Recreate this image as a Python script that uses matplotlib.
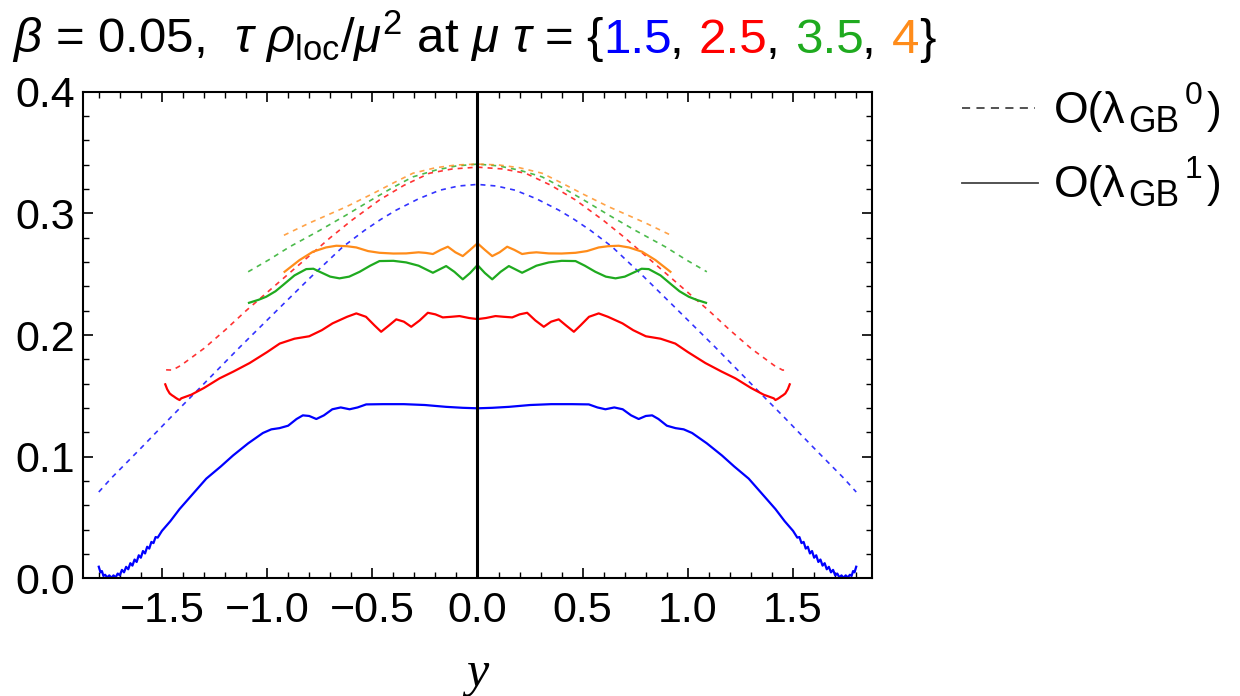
import numpy as np
import matplotlib.pyplot as plt
from matplotlib.lines import Line2D
from matplotlib.ticker import MultipleLocator

plt.rcParams['font.family'] = ['Liberation Sans', 'DejaVu Sans']
plt.rcParams['mathtext.fontset'] = 'custom'
plt.rcParams['mathtext.rm'] = 'Liberation Sans'
plt.rcParams['mathtext.it'] = 'Liberation Sans:italic'
plt.rcParams['mathtext.bf'] = 'Liberation Sans:bold'

# mu*tau values and colours
mu_tau = ["1.5", "2.5", "3.5", "4"]
colors = ["#0000ff", "#ff0000", "#1faa1f", "#ff8c1a"]

# curves are symmetric in y, only the left half (y <= 0) is listed
# O(lambda^1), solid
blue_x = [-1.800, -1.792, -1.785, -1.778, -1.770, -1.760, -1.750, -1.740, -1.730, -1.720,
          -1.710, -1.700, -1.690, -1.680, -1.670, -1.660, -1.650, -1.640, -1.630, -1.620,
          -1.610, -1.600, -1.590, -1.580, -1.570, -1.560, -1.550, -1.540, -1.530, -1.520,
          -1.50, -1.46, -1.416, -1.35, -1.289, -1.22, -1.162, -1.09, -1.02, -0.98,
          -0.941, -0.90, -0.86, -0.83, -0.80, -0.766, -0.73, -0.69, -0.65, -0.608,
          -0.57, -0.529, -0.45, -0.35, -0.25, -0.15, -0.07, 0.0]
blue_y = [0.0096, 0.0050, 0.0060, 0.0020, 0.0030, 0.0008, 0.0025, 0.0005, 0.0025, 0.0008,
          0.0040, 0.0025, 0.0070, 0.0050, 0.0095, 0.0075, 0.0125, 0.0105, 0.0155, 0.0135,
          0.0190, 0.0170, 0.0225, 0.0205, 0.0260, 0.0245, 0.0300, 0.0290, 0.0340, 0.0335,
          0.039, 0.047, 0.057, 0.070, 0.082, 0.092, 0.101, 0.111, 0.1195, 0.1225,
          0.1235, 0.1255, 0.131, 0.134, 0.1335, 0.131, 0.134, 0.139, 0.1405, 0.139,
          0.1405, 0.143, 0.1432, 0.1432, 0.1425, 0.141, 0.1402, 0.1398]

red_x = [-1.484, -1.475, -1.463, -1.452, -1.443, -1.435, -1.426, -1.416, -1.408, -1.40,
         -1.36, -1.30, -1.226, -1.16, -1.083, -1.00, -0.94, -0.87, -0.80, -0.74,
         -0.689, -0.62, -0.576, -0.53, -0.49, -0.458, -0.42, -0.386, -0.35, -0.315,
         -0.275, -0.236, -0.20, -0.165, -0.125, -0.0855, -0.04, 0.0]
red_y = [0.1595, 0.1555, 0.152, 0.1505, 0.1495, 0.1485, 0.1475, 0.1466, 0.1480, 0.1485,
         0.151, 0.1565, 0.1644, 0.170, 0.177, 0.186, 0.193, 0.197, 0.199, 0.204,
         0.2096, 0.215, 0.2178, 0.215, 0.208, 0.2027, 0.208, 0.2129, 0.211, 0.2068,
         0.212, 0.2183, 0.217, 0.2145, 0.215, 0.2156, 0.214, 0.2131]

green_x = [-1.086, -1.04, -1.004, -0.96, -0.925, -0.87, -0.814, -0.78, -0.75, -0.70,
           -0.656, -0.61, -0.56, -0.51, -0.466, -0.40, -0.339, -0.28, -0.245, -0.212,
           -0.18, -0.149, -0.11, -0.07, -0.035, 0.0]
green_y = [0.2265, 0.229, 0.2315, 0.236, 0.241, 0.249, 0.2542, 0.2545, 0.252, 0.248,
           0.2466, 0.248, 0.252, 0.257, 0.2608, 0.261, 0.2597, 0.257, 0.254, 0.2512,
           0.254, 0.2567, 0.252, 0.2458, 0.251, 0.2575]

orange_x = [-0.917, -0.88, -0.846, -0.782, -0.72, -0.671, -0.62, -0.576, -0.52, -0.466,
            -0.40, -0.339, -0.28, -0.245, -0.212, -0.175, -0.141, -0.105, -0.07, -0.035, 0.0]
orange_y = [0.252, 0.257, 0.2616, 0.2685, 0.272, 0.2734, 0.273, 0.272, 0.269, 0.2676,
            0.267, 0.2671, 0.268, 0.2675, 0.2666, 0.270, 0.2726, 0.268, 0.2649, 0.270, 0.2754]

# O(lambda^0), dashed
blue0_x = [-1.80, -1.74, -1.60, -1.46, -1.32, -1.13, -0.94, -0.79, -0.64, -0.537,
           -0.46, -0.386, -0.28, -0.18, -0.09, 0.0]
blue0_y = [0.071, 0.0825, 0.107, 0.132, 0.1565, 0.190, 0.2225, 0.248, 0.2725, 0.286,
           0.295, 0.3027, 0.312, 0.319, 0.3225, 0.3238]
red0_x = [-1.48, -1.45, -1.41, -1.30, -1.20, -1.10, -1.00, -0.90, -0.80, -0.70,
          -0.60, -0.466, -0.35, -0.228, -0.12, 0.0]
red0_y = [0.1714, 0.1712, 0.175, 0.189, 0.204, 0.220, 0.235, 0.250, 0.265, 0.280,
          0.294, 0.311, 0.323, 0.333, 0.3365, 0.338]
green0_x = [-1.09, -0.99, -0.893, -0.75, -0.624, -0.50, -0.40, -0.307, -0.20, -0.10, 0.0]
green0_y = [0.252, 0.262, 0.2725, 0.286, 0.2986, 0.3115, 0.3215, 0.330, 0.3355, 0.339, 0.3405]
orange0_x = [-0.92, -0.80, -0.624, -0.50, -0.40, -0.307, -0.20, -0.10, 0.0]
orange0_y = [0.282, 0.292, 0.3054, 0.316, 0.325, 0.333, 0.3375, 0.3398, 0.3405]


def mirror(x, v):
    x = np.asarray(x)
    v = np.asarray(v)
    return np.concatenate([x, -x[-2::-1]]), np.concatenate([v, v[-2::-1]])


solid = [(blue_x, blue_y), (red_x, red_y), (green_x, green_y), (orange_x, orange_y)]
dashed = [(blue0_x, blue0_y), (red0_x, red0_y), (green0_x, green0_y), (orange0_x, orange0_y)]

W, H = 1240, 696
fig = plt.figure(figsize=(W / 100, H / 100), dpi=100)
ax = fig.add_axes([83 / W, 1 - 578.4 / H, (872 - 83) / W, (578.4 - 91.7) / H])

for (x, v), c in zip(dashed, colors):
    xx, vv = mirror(x, v)
    ax.plot(xx, vv, color=c, lw=1.2, ls=(0, (3.0, 3.0)), alpha=0.8)
for (x, v), c in zip(solid, colors):
    xx, vv = mirror(x, v)
    ax.plot(xx, vv, color=c, lw=1.6)

ax.axvline(0, color='black', lw=2.2)

ax.set_xlim(-1.875, 1.875)
ax.set_ylim(0, 0.4)
ax.xaxis.set_major_locator(MultipleLocator(0.5))
ax.xaxis.set_minor_locator(MultipleLocator(0.1))
ax.yaxis.set_major_locator(MultipleLocator(0.1))
ax.yaxis.set_minor_locator(MultipleLocator(0.02))
ax.tick_params(which='both', direction='in', top=True, right=True, labelsize=31)
ax.tick_params(which='major', length=7, width=1.2)
ax.tick_params(which='minor', length=4, width=1.0)
ax.tick_params(axis='x', pad=9)
ax.tick_params(axis='y', pad=6)
for s in ax.spines.values():
    s.set_linewidth(1.5)

ax.set_xlabel('y', family='Liberation Serif', style='italic', fontsize=36, labelpad=14)

r = fig.canvas.get_renderer()


def text_width(s, fs):
    t = fig.text(0, 0, s, fontsize=fs)
    w = t.get_window_extent(r).width
    t.remove()
    return w


# title with coloured values: (shown text, text added to the running prefix, colour)
fs_title = 35.5
head = r"$\beta$ = 0.05,  $\tau$ $\rho_{\rm loc}/\mu^2$ at $\mu$ $\tau$ = {"
parts = []
for i, (m, c) in enumerate(zip(mu_tau, colors)):
    parts.append((m, (" " if i else "") + m, c))
    sep = "," if i < len(mu_tau) - 1 else "}"
    parts.append((sep, sep, 'black'))

x0 = 12
y_base = 1 - 53 / H
fig.text(x0 / W, y_base, head, fontsize=fs_title, va='baseline')
prefix = head
for shown, add, c in parts:
    prefix = prefix + add
    xr = x0 + text_width(prefix, fs_title)
    fig.text(xr / W, y_base, shown, fontsize=fs_title, color=c, va='baseline', ha='right')

# legend, drawn piece by piece so the subscript keeps its size
leg_gray = '#444444'
fs_leg = 32
fig.add_artist(Line2D([962 / W, 1035 / W], [1 - 108 / H] * 2, transform=fig.transFigure,
                      color=leg_gray, lw=1.3, ls=(0, (4.5, 3.5))))
fig.add_artist(Line2D([962 / W, 1038 / W], [1 - 183 / H] * 2, transform=fig.transFigure,
                      color=leg_gray, lw=1.3))
for order, yb in [("0", 123), ("1", 197)]:
    x = 1054
    pieces = [("O(\u03bb", fs_leg, 0, 3), ("GB", fs_leg * 0.8, -9, 5),
              (order, fs_leg * 0.72, 19, 4), (")", fs_leg, 0, 0)]
    for s, fs, dy, gap in pieces:
        fig.text(x / W, 1 - (yb - dy) / H, s, fontsize=fs, va='baseline')
        x += text_width(s, fs) + gap

fig.savefig('out.png', dpi=100)
